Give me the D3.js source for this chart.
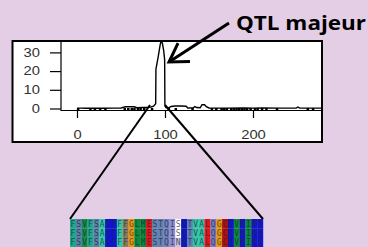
<!DOCTYPE html>
<html>
<head>
<meta charset="utf-8">
<script src="https://cdn.jsdelivr.net/npm/d3@7"></script>
<style>
body { margin: 0; background: #e3cee6; }
svg { display: block; }
</style>
</head>
<body>
<script>
var w = 368;
var h = 247;

// LOD profile (position in cM, LOD score)
var positions = [0, 5, 10, 20, 30, 40, 50, 55, 60, 65, 68, 75, 80, 84, 87, 89.4, 89.7, 92.3, 94.5, 95.5, 97, 98.5, 99.6, 99.9, 101, 104, 107, 111, 118, 124, 126, 132, 134, 136, 140, 142, 145, 147, 150, 170, 190, 200, 210, 230, 249, 251, 253, 278];
var lod = [0.2, 0.2, 0.1, 0.2, 0.1, 0.2, 0.3, 0.9, 1.0, 0.9, 0.4, 0.6, 0.5, 0.8, 1.2, 2.5, 21, 27.7, 34, 36, 35, 31, 26, 1.5, 0.5, 0.3, 1.1, 1.3, 1.3, 1.2, 0.3, 0.4, 1.0, 0.5, 0.4, 2.0, 2.0, 1.0, 0.3, 0.2, 0.3, 0.2, 0.3, 0.2, 0.2, 0.8, 0.2, 0.2];
var markers = [1, 15, 20, 26, 32, 54, 58, 62, 65, 69, 72, 76, 85, 104, 112, 131, 153, 158, 164, 167, 170, 175, 178, 181, 184, 187, 190, 193, 197, 202, 205, 210, 215, 227, 262, 268];
var xTicks = [0, 100, 200];
var yTicks = [0, 10, 20, 30];

// aligned protein sequences and column colours
var seqs = [
	"FSVFSAKFFFGLMESTQISKTVALQGCKVRIRR",
	"FSVFSAKFFFGLMESTQISKTVALQGCRVRIRR",
	"FSVFSAKFFFGLMESTQINKTVALQGCRVRIRR"
];
var colColors = ["#1ea88e", "#5a80a8", "#148c4c", "#1ea88e", "#5a80a8", "#32c6a8", "#1212d6", "#1212d6",
	"#32c6a8", "#8a7c5c", "#e8960e", "#0a8a3c", "#0a8a3c", "#e6121c", "#6282b2", "#6282b2",
	"#7080c0", "#8c8cd2", "#ffffff", "#1212d6", "#6282b2", "#32c6a8", "#32c6a8", "#e6121c",
	"#7a7ac0", "#e8960e", "#b01010", "#1212d6", "#0a8a3c", "#1212d6", "#0a8a3c", "#1212d6", "#1212d6"];

var svg = d3.select("body")
	.append("svg")
	.attr("width", w)
	.attr("height", h);

// white frame around the plot
svg.append("rect")
	.attr("x", 12.5)
	.attr("y", 41)
	.attr("width", 309.5)
	.attr("height", 101)
	.attr("fill", "white")
	.attr("stroke", "black")
	.attr("stroke-width", 2);

var x = d3.scaleLinear().domain([0, 200]).range([77, 253]);
var y = d3.scaleLinear().domain([0, 30]).range([108.5, 52.4]);

svg.append("clipPath").attr("id", "clip")
	.append("rect").attr("x", 61).attr("y", 42).attr("width", 260).attr("height", 70);

// LOD curve
var line = d3.line()
	.x(function(d, i) { return x(positions[i]); })
	.y(function(d) { return y(d); });

svg.append("path")
	.datum(lod)
	.attr("clip-path", "url(#clip)")
	.attr("d", line)
	.attr("fill", "none")
	.attr("stroke", "black")
	.attr("stroke-width", 1.4);

// marker rug
svg.selectAll("rect.rug")
	.data(markers)
	.enter()
	.append("rect")
	.attr("class", "rug")
	.attr("x", function(d) { return x(d) - 1; })
	.attr("y", 108)
	.attr("width", 2.5)
	.attr("height", 2)
	.attr("fill", "black");

// axis frame lines
svg.append("path")
	.attr("d", "M61,42V110.5H321")
	.attr("fill", "none")
	.attr("stroke", "black")
	.attr("stroke-width", 1.2);

var yAxis = svg.append("g")
	.attr("transform", "translate(61,0)")
	.call(d3.axisLeft(y).tickValues(yTicks).tickSize(11).tickPadding(10));
yAxis.select(".domain").remove();

var xAxis = svg.append("g")
	.attr("transform", "translate(0,110)")
	.call(d3.axisBottom(x).tickValues(xTicks).tickSize(8).tickPadding(12));
xAxis.select(".domain").remove();

svg.selectAll(".tick line").attr("stroke", "black").attr("stroke-width", 1.2);
svg.selectAll(".tick text")
	.attr("font-family", "Liberation Sans, Arial, sans-serif")
	.attr("font-size", "12px")
	.attr("fill", "#333")
	.attr("textLength", function(d) { return String(d).length * 8.2; })
	.attr("lengthAdjust", "spacingAndGlyphs");

// zoom lines towards the alignment
var cellW = (263 - 70) / seqs[0].length;
var rowH = 9.4;
var alignTop = 219;

svg.append("line")
	.attr("x1", 150).attr("y1", 105).attr("x2", 70).attr("y2", alignTop)
	.attr("stroke", "black").attr("stroke-width", 2);
svg.append("line")
	.attr("x1", 165).attr("y1", 105).attr("x2", 263).attr("y2", alignTop)
	.attr("stroke", "black").attr("stroke-width", 2);

// alignment cells
var cells = [];
seqs.forEach(function(s, r) {
	s.split("").forEach(function(c, i) {
		cells.push({ r: r, i: i, c: c });
	});
});

svg.selectAll("rect.cell")
	.data(cells)
	.enter()
	.append("rect")
	.attr("class", "cell")
	.attr("x", function(d) { return 70 + d.i * cellW; })
	.attr("y", function(d) { return alignTop + d.r * rowH; })
	.attr("width", cellW + 0.2)
	.attr("height", rowH + 0.2)
	.attr("fill", function(d) {
		if (d.c == "N") return "#c9c2e2";
		return colColors[d.i];
	});

svg.selectAll("text.res")
	.data(cells)
	.enter()
	.append("text")
	.attr("class", "res")
	.text(function(d) { return d.c; })
	.attr("x", function(d) { return 70 + d.i * cellW + cellW / 2; })
	.attr("y", function(d) { return alignTop + d.r * rowH + 7.5; })
	.attr("text-anchor", "middle")
	.attr("font-family", "DejaVu Sans Mono, monospace")
	.attr("font-size", "8px")
	.attr("fill", "#1c2c34")
	.attr("fill-opacity", 0.75);

// arrow and label
var tip = [169, 62];
var tail = [229, 23];
svg.append("line")
	.attr("x1", tail[0]).attr("y1", tail[1]).attr("x2", tip[0]).attr("y2", tip[1])
	.attr("stroke", "black").attr("stroke-width", 3);

var ang = Math.atan2(tail[1] - tip[1], tail[0] - tip[0]);
var headLen = 21;
var spread = 0.55;
svg.append("path")
	.attr("d", "M" + (tip[0] + headLen * Math.cos(ang + spread)) + "," + (tip[1] + headLen * Math.sin(ang + spread)) +
		"L" + tip[0] + "," + tip[1] +
		"L" + (tip[0] + headLen * Math.cos(ang - spread)) + "," + (tip[1] + headLen * Math.sin(ang - spread)))
	.attr("fill", "none")
	.attr("stroke", "black")
	.attr("stroke-width", 3);

svg.append("text")
	.text("QTL majeur")
	.attr("x", 236)
	.attr("y", 30)
	.attr("font-family", "Open Sans, sans-serif")
	.attr("font-weight", "bold")
	.attr("font-size", "20px")
	.attr("textLength", 130)
	.attr("lengthAdjust", "spacingAndGlyphs")
	.attr("fill", "black");
</script>
</body>
</html>
